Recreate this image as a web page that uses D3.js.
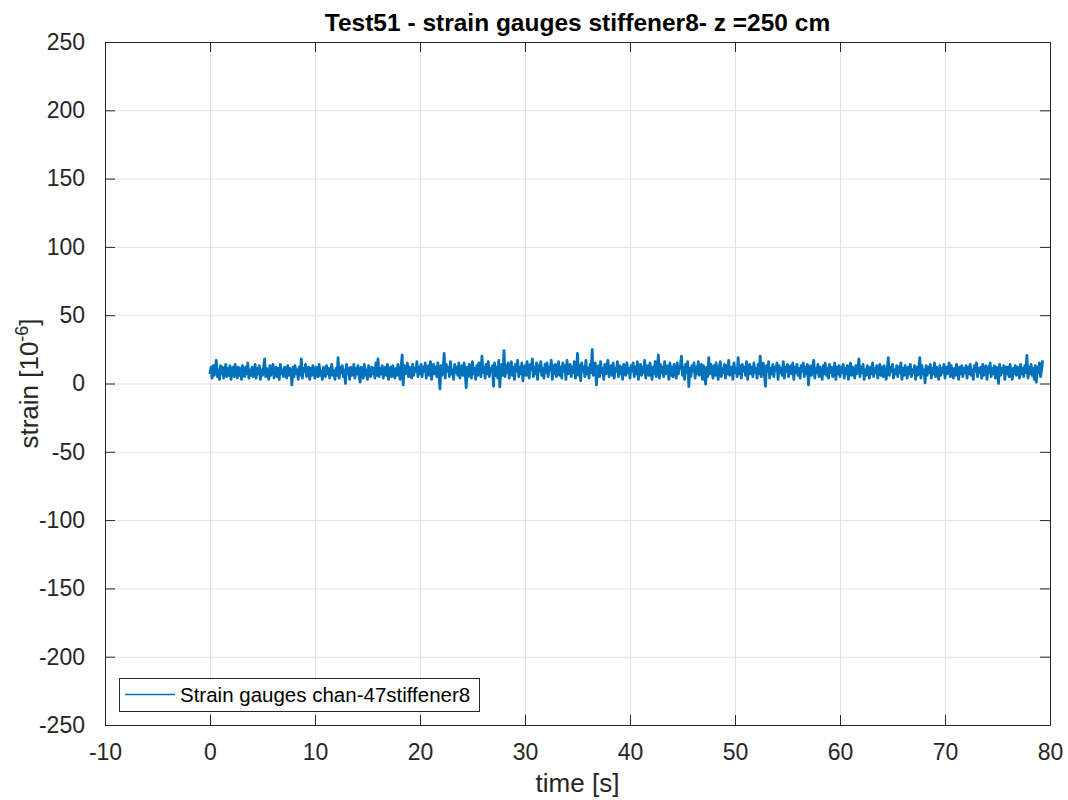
<!DOCTYPE html>
<html><head><meta charset="utf-8">
<script src="https://cdn.jsdelivr.net/npm/d3@7"></script>
<style>body{margin:0;background:#fff;}svg{display:block;font-family:"Liberation Sans",Arial,Helvetica,sans-serif;}</style>
</head><body>
<svg id="c" width="1068" height="800"></svg>
<script>
const titleText = "Test51 - strain gauges stiffener8- z =250 cm";
const xLabel = "time [s]";
const legendLabel = "Strain gauges chan-47stiffener8";
const xTicks = [-10,0,10,20,30,40,50,60,70,80];
const yTicks = [-250,-200,-150,-100,-50,0,50,100,150,200,250];
const timeStep = 0.1; // seconds between samples, t starts at 0
const strain = [
7,12,4,13,6,11,17,5,10,3,13,7,12,4,9,14,5,11,6,13,3,10,12,5,14,8,4,12,6,11,3,13,9,5,12,7,15,4,10,6,
12,5,9,14,4,11,7,13,3,10,6,12,18,5,11,8,3,13,6,10,14,4,9,12,5,11,3,14,7,10,5,12,8,4,13,6,11,9,-1,12,
5,13,7,10,3,12,6,18,4,11,9,14,5,8,12,3,11,6,13,7,4,12,10,5,14,6,9,3,12,8,5,13,7,11,4,10,14,6,9,3,
11,6,19,4,12,8,13,5,10,0,14,7,11,3,12,6,9,14,4,11,7,13,5,1,12,9,4,14,6,10,3,13,8,5,12,7,11,4,15,6,
18,5,11,7,13,4,10,12,6,14,3,9,12,5,13,8,4,11,6,14,9,3,12,21,-1,13,7,10,15,5,12,8,4,14,6,11,9,16,5,12,
7,14,5,12,9,15,4,11,13,6,16,3,10,14,7,12,5,15,8,-4,13,6,11,22,4,14,9,12,5,16,7,10,3,14,8,12,6,15,4,11,
13,6,15,8,-3,12,5,14,9,4,16,7,11,3,13,6,15,10,5,20,8,12,4,14,7,16,5,11,9,13,-2,15,6,12,4,17,-2.5,10,14,6,
24,5,13,8,15,4,11,16,6,12,3,14,9,17,5,12,7,15,2,11,13,6,16,8,4,14,10,18,5,12,7,15,3,13,9,16,6,11,4,14,
8,15,5,12,10,17,3,13,7,14,5,11,16,6,12,4,15,9,13,3,17,7,11,14,5,12,8,16,4,10,22,6,13,2,15,9,12,5,17,7,
11,4,14,8,25,6,12,15,-1,10,13,5,16,8,11,3,14,7,12,17,5,10,13,6,15,4,11,9,16,5,13,7,12,3,14,10,6,15,8,11,
4,13,9,15,5,12,7,16,3,11,14,6,12,8,17,4,10,13,6,15,9,3,12,7,16,5,11,21,4,14,8,12,5,16,7,10,13,3,15,6,
12,5,14,9,4,15,7,11,13,20,6,12,3,14,8,16,-2.3,11,5,13,9,15,4,12,7,16,6,10,14,3,13,8,-0.5,12,5,19,7,14,10,4,
13,6,15,9,3,12,16,5,11,8,14,4,13,7,17,6,10,12,3,15,8,11,5,19,7,13,4,14,9,12,6,16,3,11,14,7,12,5,15,8,
11,4,14,7,20,5,12,15,6,-2,13,9,16,4,11,7,14,5,12,10,15,3,13,8,11,6,16,4,12,9,14,5,10,13,7,15,3,12,8,14,
6,11,4,13,9,15,5,12,7,14,-1,10,13,6,12,17,4,11,8,14,5,12,9,3,13,7,15,6,11,4,14,8,12,5,10,15,3,12,7,13,
5,12,8,14,4,11,7,13,3,10,15,6,12,9,4,13,7,11,18,5,12,8,14,3,10,6,13,9,4,12,7,15,5,11,8,13,4,10,14,6,
12,5,13,8,3,11,19,6,12,9,14,4,10,7,13,5,12,8,15,3,11,6,13,9,4,12,7,14,5,10,8,13,3,12,6,11,19,4,13,7,
10,0.5,13,6,12,8,14,4,11,7,15,5,12,9,3,13,6,11,8,14,4,12,7,10,15,5,13,8,4,11,6,14,9,3,12,7,13,5,11,8,
13,4,12,7,14,6,10,3,13,9,15,5,11,8,12,4,14,6,10,13,3,12,8,15,5,11,7,13,4,12,9,0,14,6,11,8,13,3,12,7,
12,5,14,8,3,11,7,13,6,12,9,4,14,7,11,5,13,8,20.5,4,12,7,14,6,11,3,13,1,12,8,15,5,10,17
];

const svg = d3.select("#c");
const m = {l:105, r:1050, t:42, b:725};
const x = d3.scaleLinear().domain([-10,80]).range([m.l, m.r]);
const y = d3.scaleLinear().domain([-250,250]).range([m.b, m.t]);
const axisCol = "#262626";
const gridCol = "#e3e3e3";
const W = m.r - m.l, H = m.b - m.t;

// grid
const g = svg.append("g");
g.append("g").attr("transform",`translate(0,${m.b})`)
  .call(d3.axisBottom(x).tickValues(xTicks).tickSize(-H).tickFormat(""))
  .call(s=>{s.select(".domain").remove(); s.selectAll("line").attr("stroke",gridCol).attr("stroke-width",1);});
g.append("g").attr("transform",`translate(${m.l},0)`)
  .call(d3.axisLeft(y).tickValues(yTicks).tickSize(-W).tickFormat(""))
  .call(s=>{s.select(".domain").remove(); s.selectAll("line").attr("stroke",gridCol).attr("stroke-width",1);});

// data line
const data = strain.map((v,i)=>({t:i*timeStep, v}));
svg.append("path").datum(data)
  .attr("fill","none").attr("stroke","#0072BD").attr("stroke-width",2.8)
  .attr("stroke-linejoin","round")
  .attr("d", d3.line().x(d=>x(d.t)).y(d=>y(d.v)));

// axes with inward ticks
const tickLen = 10;
function styleAxis(s){
  s.select(".domain").attr("stroke",axisCol).attr("stroke-width",1);
  s.selectAll(".tick line").attr("stroke",axisCol).attr("stroke-width",1);
  s.selectAll("text").attr("fill",axisCol).style("font-size","23px").style("font-family",'"Liberation Sans",Arial,sans-serif');
}
svg.append("g").attr("transform",`translate(0,${m.b})`)
  .call(d3.axisBottom(x).tickValues(xTicks).tickSizeInner(-tickLen).tickSizeOuter(0).tickPadding(19).tickFormat(d3.format("d")))
  .call(styleAxis);
svg.append("g").attr("transform",`translate(0,${m.t})`)
  .call(d3.axisTop(x).tickValues(xTicks).tickSizeInner(-tickLen).tickSizeOuter(0).tickFormat(""))
  .call(styleAxis);
svg.append("g").attr("transform",`translate(${m.l},0)`)
  .call(d3.axisLeft(y).tickValues(yTicks).tickSizeInner(-tickLen).tickSizeOuter(0).tickPadding(20).tickFormat(d3.format("d")))
  .call(styleAxis);
svg.append("g").attr("transform",`translate(${m.r},0)`)
  .call(d3.axisRight(y).tickValues(yTicks).tickSizeInner(-tickLen).tickSizeOuter(0).tickFormat(""))
  .call(styleAxis);
svg.selectAll(".tick text").text(function(){return this.textContent.replace("\u2212","-");});

// title
svg.append("text").attr("x",(m.l+m.r)/2).attr("y",31).attr("text-anchor","middle")
  .attr("font-weight","bold").attr("font-size","24.5px").attr("fill","#000").text(titleText);

// x label
svg.append("text").attr("x",(m.l+m.r)/2).attr("y",792).attr("text-anchor","middle")
  .attr("font-size","26px").attr("fill",axisCol).text(xLabel);

// y label
const yl = svg.append("text").attr("transform",`translate(38,${(m.t+m.b)/2}) rotate(-90)`)
  .attr("text-anchor","middle").attr("font-size","26px").attr("fill",axisCol);
yl.append("tspan").text("strain [10");
yl.append("tspan").attr("font-size","18px").attr("dy","-10").text("-6");
yl.append("tspan").attr("dy","10").text("]");

// legend
const lg = svg.append("g");
lg.append("rect").attr("x",119.5).attr("y",678.5).attr("width",360).attr("height",33)
  .attr("fill","#fff").attr("stroke",axisCol).attr("stroke-width",1);
lg.append("line").attr("x1",125).attr("x2",175).attr("y1",694.5).attr("y2",694.5)
  .attr("stroke","#0072BD").attr("stroke-width",1.5);
lg.append("text").attr("x",180).attr("y",702).attr("font-size","20.5px").attr("fill","#000").text(legendLabel);
</script>
</body></html>
